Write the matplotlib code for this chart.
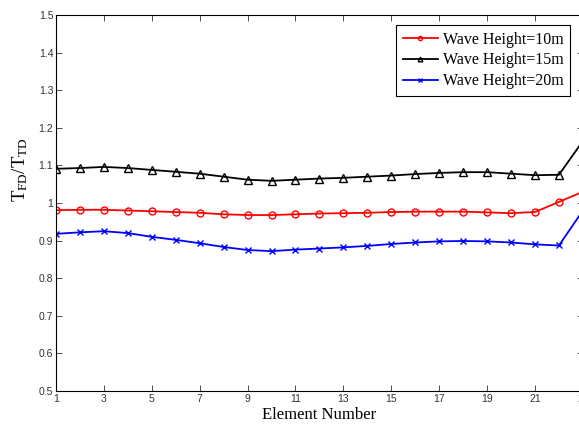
import matplotlib
matplotlib.use("Agg")
import matplotlib.pyplot as plt

plt.rcParams['mathtext.fontset'] = 'custom'
plt.rcParams['mathtext.rm'] = 'Liberation Serif'
plt.rcParams['mathtext.it'] = 'Liberation Serif:italic'

elements = list(range(1, 24))
h10 = [0.981, 0.982, 0.982, 0.980, 0.978, 0.976, 0.974, 0.970, 0.968, 0.968, 0.970,
       0.972, 0.973, 0.974, 0.976, 0.977, 0.977, 0.977, 0.975, 0.973, 0.976, 1.003, 1.030]
h15 = [1.091, 1.093, 1.096, 1.093, 1.088, 1.083, 1.078, 1.070, 1.062, 1.059, 1.062,
       1.065, 1.067, 1.070, 1.073, 1.077, 1.080, 1.082, 1.082, 1.078, 1.074, 1.075, 1.165]
h20 = [0.918, 0.922, 0.925, 0.920, 0.910, 0.902, 0.893, 0.883, 0.875, 0.872, 0.876,
       0.879, 0.882, 0.886, 0.891, 0.895, 0.898, 0.899, 0.898, 0.895, 0.890, 0.887, 0.980]
yticks = [0.5, 0.6, 0.7, 0.8, 0.9, 1.0, 1.1, 1.2, 1.3, 1.4, 1.5]
ytick_labels = ['0.5', '0.6', '0.7', '0.8', '0.9', '1', '1.1', '1.2', '1.3', '1.4', '1.5']
xticks = list(range(1, 24, 2))

fig = plt.figure(figsize=(5.79, 4.24), dpi=100)
ax = fig.add_axes([0.0967, 0.0778, 0.910, 0.8868])

ax.plot(elements, h10, color='red', lw=1.3, marker='o', ms=5, mfc='none', mew=1,
        label='Wave Height=10m')
ax.plot(elements, h15, color='black', lw=1.3, marker='^', ms=5.5, mfc='none', mew=1,
        label='Wave Height=15m')
ax.plot(elements, h20, color='blue', lw=1.3, marker='x', ms=5, mew=1,
        label='Wave Height=20m')

ax.set_xlim(1, 23)
ax.set_ylim(0.5, 1.5)
ax.set_xticks(xticks)
ax.set_yticks(yticks)
ax.set_yticklabels(ytick_labels)
ax.tick_params(direction='in', top=True, right=True, labelsize=7.5, length=4,
               width=0.6, colors='#333333', pad=2)
for t in ax.get_xticklabels() + ax.get_yticklabels():
    t.set_family('Liberation Sans')
for s in ax.spines.values():
    s.set_linewidth(0.8)

ax.set_xlabel('Element Number', family='Liberation Serif', fontsize=12, labelpad=2)
ax.set_ylabel(r'$\mathrm{T_{FD}/T_{TD}}$', fontsize=13.5, labelpad=2)
ax.yaxis.set_label_coords(-0.05, 0.59)

leg = ax.legend(loc='upper right', bbox_to_anchor=(0.975, 0.973), borderaxespad=0,
                prop={'family': 'Liberation Serif', 'size': 11.5},
                fancybox=False, edgecolor='black', framealpha=1,
                handlelength=2.2, handletextpad=0.3, borderpad=0.4, labelspacing=0.3,
                markerscale=0.6)
leg.get_frame().set_linewidth(0.8)

fig.savefig('out.png', dpi=100)
